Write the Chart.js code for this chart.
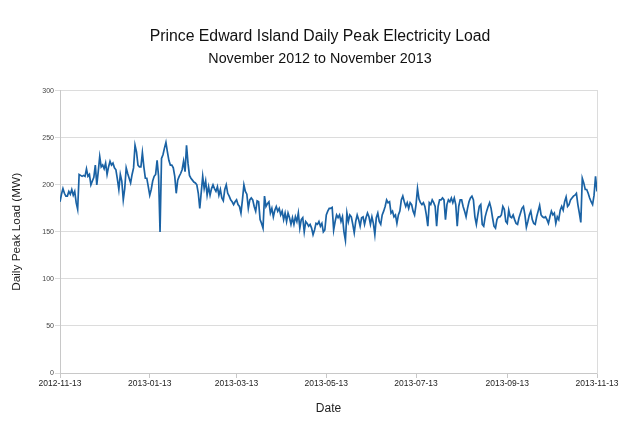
<!DOCTYPE html>
<html>
<head>
<meta charset="utf-8">
<script src="https://cdn.jsdelivr.net/npm/chart.js@4.4.1/dist/chart.umd.min.js"></script>
<style>
html,body{margin:0;padding:0;background:#ffffff;}
#wrap{width:640px;height:423px;}
</style>
</head>
<body>
<div id="wrap"><canvas id="c" width="640" height="423"></canvas></div>
<script>
// ---- data (day index 0 = 2012-11-13) ----
const xTickDays = [0, 61, 120, 181, 242, 304, 365];
const xTickLabels = ['2012-11-13', '2013-01-13', '2013-03-13', '2013-05-13', '2013-07-13', '2013-09-13', '2013-11-13'];
const yTickValues = [0, 50, 100, 150, 200, 250, 300];

// daily peak load (MW), day 0 .. 61
const loadNovToJan = [182,190,196,191,188,188,193,190,195,189,
  193,181,174,211,210,209,210,209,217,209,
  211,200,204,208,221,200,214,230,219,221,
  217,223,211,219,225,221,223,218,216,206,
  195,211,204,184,196,218,212,207,202,211,
  218,242,235,221,219,219,234,219,207,207,
  198,189];
// day 62 .. 117
const loadJanToMar = [195,204,209,211,226,209,150,228,232,239,
  245,235,226,221,221,218,209,191,205,209,
  212,216,225,214,242,223,210,207,205,203,
  202,200,191,175,192,209,196,204,189,198,
  189,196,200,196,193,198,189,195,186,183,
  195,200,191,188,184,182];
// day 118 .. 180
const loadMarToMay = [179,182,184,179,177,170,184,200,193,190,
  175,184,186,184,177,172,183,182,163,159,
  154,188,177,180,182,170,175,166,173,177,
  172,175,168,172,163,170,161,170,165,158,
  165,158,166,161,170,154,163,165,150,161,
  159,156,158,154,147,152,159,158,161,156,
  159,150,152];
// day 181 .. 244
const loadMayToJul = [168,172,175,175,176,152,161,168,165,168,
  161,166,150,141,170,161,168,166,158,149,
  161,168,163,156,165,166,158,165,170,166,
  158,166,159,147,165,170,161,158,168,172,
  177,184,181,182,170,172,166,168,159,168,
  172,184,188,182,177,181,175,181,179,172,
  168,179,196,185];
// day 245 .. 304
const loadJulToSep = [181,179,181,177,168,156,181,179,184,181,
  177,156,177,184,184,186,184,163,179,184,
  182,186,181,186,179,156,177,184,184,177,
  172,166,175,182,186,188,184,166,158,168,
  177,179,158,156,166,172,177,181,175,165,
  156,154,163,166,166,168,177,174,161,159];
// day 305 .. 365
const loadSepToNov = [173,166,165,168,163,159,158,165,170,175,
  177,168,155,161,168,172,163,159,158,166,
  172,178,168,166,165,166,163,159,166,172,
  168,170,159,166,163,173,177,173,182,187,
  177,179,184,186,188,189,191,179,170,160,
  207,202,195,195,191,186,182,179,189,209,193];

const dailyLoad = [].concat(loadNovToJan, loadJanToMar, loadMarToMay, loadMayToJul, loadJulToSep, loadSepToNov);
const points = dailyLoad.map((v, i) => ({x: i, y: v}));

Chart.defaults.font.family = '"Liberation Sans", Arial, Helvetica, sans-serif';
Chart.defaults.color = '#222';

new Chart(document.getElementById('c'), {
  type: 'line',
  data: {
    datasets: [{
      data: points,
      borderColor: '#1a62a4',
      borderWidth: 1.7,
      pointRadius: 0,
      tension: 0,
      fill: false
    }]
  },
  options: {
    responsive: false,
    animation: false,
    devicePixelRatio: 1,
    layout: {padding: 0},
    plugins: {
      legend: {display: false},
      tooltip: {enabled: false},
      title: {
        display: true,
        text: 'Prince Edward Island Daily Peak Electricity Load',
        color: '#111',
        font: {size: 15.8, weight: 'normal', lineHeight: 1.2},
        padding: {top: 27, bottom: 0}
      },
      subtitle: {
        display: true,
        text: 'November 2012 to November 2013',
        color: '#111',
        font: {size: 14.3, weight: 'normal', lineHeight: 1.2},
        padding: {top: 4.3, bottom: 23.3}
      }
    },
    scales: {
      x: {
        type: 'linear',
        min: 0,
        max: 365,
        afterBuildTicks: (s) => { s.ticks = xTickDays.map(v => ({value: v})); },
        afterFit: (s) => { s.height = 50; },
        ticks: {
          autoSkip: false,
          maxRotation: 0,
          padding: 1,
          color: '#222',
          font: {size: 8.5},
          callback: (v) => { const i = xTickDays.indexOf(v); return i >= 0 ? xTickLabels[i] : ''; }
        },
        grid: {drawOnChartArea: false, tickLength: 5, color: '#c8c8c8'},
        border: {color: '#c8c8c8'},
        title: {display: true, text: 'Date', color: '#222', font: {size: 12}, padding: {top: 0, bottom: 7}}
      },
      y: {
        type: 'linear',
        position: 'left',
        min: 0,
        max: 300,
        afterBuildTicks: (s) => { s.ticks = yTickValues.map(v => ({value: v})); },
        afterFit: (s) => { s.width = 60; },
        ticks: {padding: 1, color: '#444', font: {size: 7}},
        grid: {color: '#dcdcdc', tickLength: 5},
        border: {color: '#c8c8c8'},
        title: {display: true, text: 'Daily Peak Load (MW)', color: '#222', font: {size: 11.8}, padding: {top: 10, bottom: 0}}
      },
      yRight: {
        type: 'linear',
        position: 'right',
        min: 0,
        max: 300,
        afterFit: (s) => { s.width = 43; },
        ticks: {display: false},
        grid: {drawOnChartArea: false, drawTicks: false},
        border: {color: '#dcdcdc'}
      }
    }
  }
});
</script>
</body>
</html>
